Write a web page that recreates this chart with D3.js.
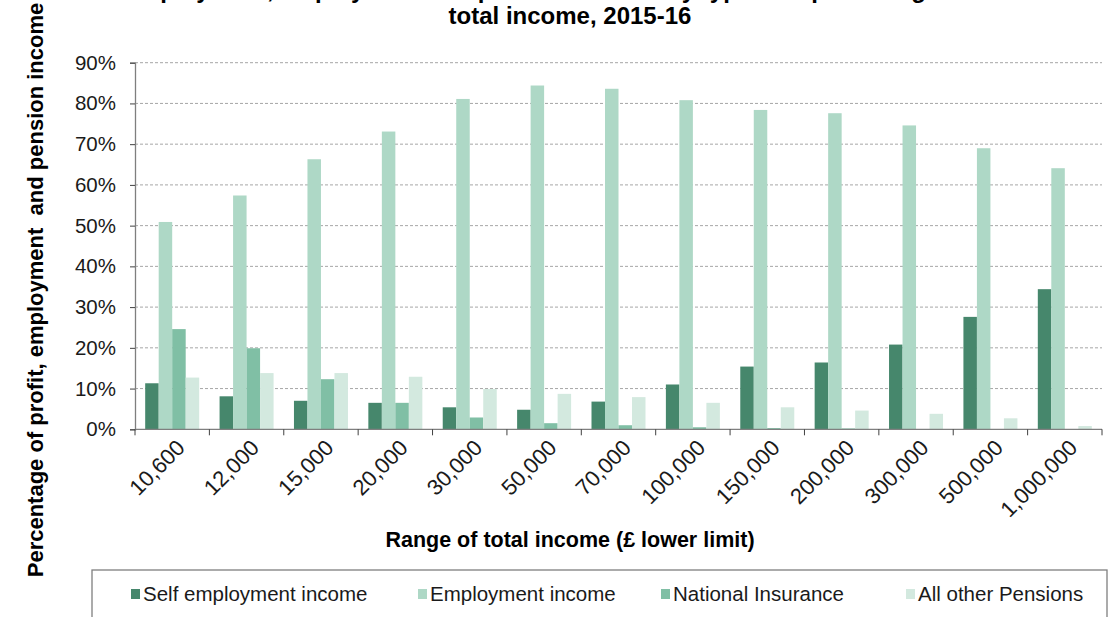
<!DOCTYPE html>
<html>
<head>
<meta charset="utf-8">
<script src="https://cdn.jsdelivr.net/npm/d3@7"></script>
<style>
  html, body { margin: 0; padding: 0; background: #fff; }
  svg { display: block; font-family: "Liberation Sans", Arial, sans-serif; }
</style>
</head>
<body>
<svg id="chart" width="1113" height="617"></svg>
<script>
// Income bands (lower limit of total income, £)
const categories = ["10,600", "12,000", "15,000", "20,000", "30,000", "50,000", "70,000",
  "100,000", "150,000", "200,000", "300,000", "500,000", "1,000,000"];

// Share of total income, percent
const selfEmployment = [11.3, 8.1, 7.0, 6.5, 5.4, 4.8, 6.8, 11.0, 15.4, 16.4, 20.8, 27.6, 34.4];
const employment     = [50.9, 57.4, 66.3, 73.1, 81.1, 84.4, 83.6, 80.8, 78.4, 77.6, 74.6, 69.0, 64.1];
const nationalIns    = [24.6, 19.9, 12.3, 6.5, 2.9, 1.5, 1.0, 0.5, 0.3, 0.2, 0.0, 0.0, 0.0];
const otherPensions  = [12.7, 13.8, 13.8, 12.9, 9.9, 8.7, 7.9, 6.5, 5.4, 4.6, 3.8, 2.7, 0.8];

const seriesNames = ["Self employment income", "Employment income", "National Insurance", "All other Pensions"];
const seriesValues = [selfEmployment, employment, nationalIns, otherPensions];
const seriesColors = ["#46876c", "#aed8c6", "#80bfa5", "#d3e9df"];
const yTicks = [0, 10, 20, 30, 40, 50, 60, 70, 80, 90];

const svg = d3.select("#chart");
const plotLeft = 135, plotRight = 1102, plotTop = 62.7, plotBottom = 429.3;

const x0 = d3.scaleBand().domain(categories).range([plotLeft, plotRight]).padding(0);
const x1 = d3.scaleBand().domain(d3.range(seriesNames.length))
  .range([0, x0.bandwidth()]).paddingInner(0).paddingOuter(0.755);
const y = d3.scaleLinear().domain([0, 90]).range([plotBottom, plotTop]);

// Gridlines
svg.append("g")
  .selectAll("line")
  .data(yTicks.filter(d => d > 0))
  .join("line")
  .attr("x1", plotLeft).attr("x2", plotRight)
  .attr("y1", d => y(d)).attr("y2", d => y(d))
  .attr("stroke", "#a6a6a6")
  .attr("stroke-width", 1)
  .attr("stroke-dasharray", "3,2");

// Bars
const groups = svg.append("g")
  .selectAll("g")
  .data(categories)
  .join("g")
  .attr("transform", d => `translate(${x0(d)},0)`);

groups.selectAll("rect")
  .data((d, i) => seriesValues.map((vals, s) => ({ s, v: vals[i] })))
  .join("rect")
  .attr("x", d => x1(d.s))
  .attr("width", x1.bandwidth())
  .attr("y", d => y(d.v))
  .attr("height", d => y(0) - y(d.v))
  .attr("fill", d => seriesColors[d.s]);

// Y axis
const yAxis = svg.append("g")
  .attr("transform", `translate(${plotLeft},0)`)
  .call(d3.axisLeft(y).tickValues(yTicks).tickFormat(d => d + "%").tickSizeOuter(0).tickSize(5).tickPadding(14));
yAxis.select(".domain").attr("stroke", "#7f7f7f").attr("stroke-width", 1.3);
yAxis.selectAll(".tick line").attr("stroke", "#404040");
yAxis.selectAll("text").attr("font-size", 20.5).attr("fill", "#1a1a1a")
  .attr("font-family", "Liberation Sans, Arial, sans-serif");

// X axis: ticks at category boundaries
const xAxis = svg.append("g").attr("transform", `translate(0,${plotBottom})`);
xAxis.append("line").attr("x1", plotLeft).attr("x2", plotRight).attr("stroke", "#7f7f7f").attr("stroke-width", 1.3);
xAxis.selectAll("line.tk")
  .data(categories.concat(["end"]))
  .join("line")
  .attr("class", "tk")
  .attr("x1", (d, i) => i < categories.length ? x0(d) : plotRight)
  .attr("x2", (d, i) => i < categories.length ? x0(d) : plotRight)
  .attr("y1", 0).attr("y2", 6)
  .attr("stroke", "#404040");
xAxis.selectAll("text")
  .data(categories)
  .join("text")
  .attr("transform", d => `translate(${x0(d) + x0.bandwidth() / 2 + 3},9) rotate(-45)`)
  .attr("text-anchor", "end")
  .attr("dy", "0.7em")
  .attr("font-size", 22)
  .attr("fill", "#1a1a1a")
  .text(d => d);

// Titles
svg.append("text")
  .attr("x", 75).attr("y", -2)
  .attr("font-size", 24).attr("font-weight", "bold")
  .text("Self employment, employment and pension income by type as a percentage of");
svg.append("text")
  .attr("x", 570).attr("y", 24)
  .attr("text-anchor", "middle")
  .attr("font-size", 24).attr("font-weight", "bold")
  .text("total income, 2015-16");

svg.append("text")
  .attr("x", 570).attr("y", 547)
  .attr("text-anchor", "middle")
  .attr("font-size", 21.5).attr("font-weight", "bold")
  .text("Range of total income (£ lower limit)");

svg.append("text")
  .attr("transform", "translate(43,290) rotate(-90)")
  .attr("text-anchor", "middle")
  .attr("font-size", 22).attr("font-weight", "bold")
  .style("white-space", "pre")
  .text("Percentage of profit, employment  and pension income");

// Legend
svg.append("rect")
  .attr("x", 92).attr("y", 570).attr("width", 1015).attr("height", 60)
  .attr("fill", "none").attr("stroke", "#7f7f7f").attr("stroke-width", 1.3);

const legendX = [131, 418, 661, 906];
const legend = svg.append("g")
  .selectAll("g")
  .data(seriesNames)
  .join("g")
  .attr("transform", (d, i) => `translate(${legendX[i]},594)`);
legend.append("rect")
  .attr("x", 0).attr("y", -5).attr("width", 9).attr("height", 10)
  .attr("fill", (d, i) => seriesColors[i]);
legend.append("text")
  .attr("x", 12).attr("y", 0).attr("dy", "0.36em")
  .attr("font-size", 20.5).attr("fill", "#1a1a1a")
  .text(d => d);
</script>
</body>
</html>
